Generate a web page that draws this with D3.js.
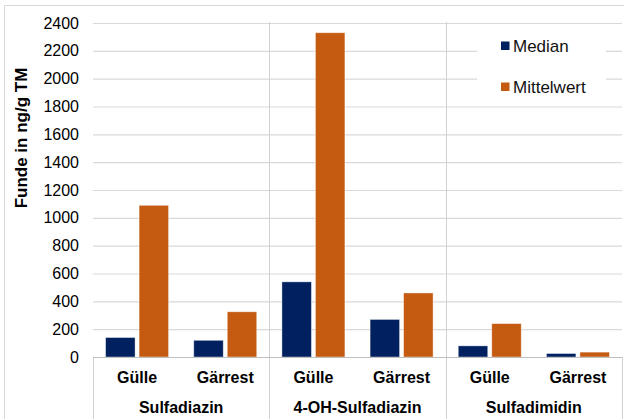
<!DOCTYPE html>
<html>
<head>
<meta charset="utf-8">
<script src="https://cdn.jsdelivr.net/npm/d3@7/dist/d3.min.js"></script>
<style>
  html, body { margin: 0; padding: 0; background: #fff; }
  svg { display: block; font-family: Arial, "Liberation Sans", sans-serif; }
</style>
</head>
<body>
<svg id="chart" width="624" height="419"></svg>
<script>
// Substances (outer categories) and sample types (inner categories)
const substances = ["Sulfadiazin", "4-OH-Sulfadiazin", "Sulfadimidin"];
const matrices = ["Gülle", "Gärrest"];
const seriesNames = ["Median", "Mittelwert"];
const seriesColors = ["#002060", "#C55A11"];

// Values in ng/g TM, ordered substance by substance, Gülle then Gärrest
const medianValues = [140, 120, 540, 270, 80, 25];
const meanValues = [1090, 325, 2330, 460, 240, 35];

const yTicks = [0, 200, 400, 600, 800, 1000, 1200, 1400, 1600, 1800, 2000, 2200, 2400];
const yTitle = "Funde in ng/g TM";

const rows = [];
substances.forEach((s, i) => {
  matrices.forEach((m, j) => {
    const k = i * matrices.length + j;
    rows.push({ substance: s, matrix: m, values: [medianValues[k], meanValues[k]] });
  });
});

const svg = d3.select("#chart");
const plotLeft = 93, plotRight = 622, plotTop = 23, base = 357, plotBottom = 419;

// Outer frame (top and left edges visible)
svg.append("path")
  .attr("d", `M4.5,419 V5.5 H624`)
  .attr("fill", "none").attr("stroke", "#d9d9d9").attr("stroke-width", 1);

const x0 = d3.scaleBand().domain(substances).range([plotLeft, plotRight]);
const x1 = d3.scaleBand().domain(matrices).range([0, x0.bandwidth()]);
const x2 = d3.scaleBand().domain(seriesNames).range([0, x1.bandwidth()])
  .paddingInner(0.12).paddingOuter(0.376);
const y = d3.scaleLinear().domain([0, 2400]).range([base, plotTop]);

// Horizontal gridlines
svg.append("g")
  .attr("transform", `translate(${plotLeft},0)`)
  .call(d3.axisLeft(y).tickValues(yTicks.slice(1)).tickSize(-(plotRight - plotLeft)).tickFormat(""))
  .call(g => g.select(".domain").remove())
  .call(g => g.selectAll("line").attr("stroke", "#d9d9d9").attr("stroke-width", 1.2));

// Separators between substances, spanning plot and category area
substances.slice(1).forEach(s => {
  const xs = Math.round(x0(s)) + 0.5;
  svg.append("line").attr("x1", xs).attr("x2", xs).attr("y1", plotTop - 1).attr("y2", plotBottom)
    .attr("stroke", "#d0d0d0").attr("stroke-width", 1);
});
// Outer edges of the category area
[plotLeft, plotRight].forEach(xe => {
  svg.append("line").attr("x1", xe + 0.5).attr("x2", xe + 0.5).attr("y1", base).attr("y2", plotBottom)
    .attr("stroke", "#d0d0d0").attr("stroke-width", 1);
});

// Y tick labels
svg.append("g")
  .attr("transform", `translate(${plotLeft},0)`)
  .call(d3.axisLeft(y).tickValues(yTicks).tickSize(0).tickPadding(14).tickFormat(d3.format("d")))
  .call(g => g.select(".domain").remove())
  .call(g => g.selectAll("text")
    .attr("font-size", "16px").attr("fill", "#000")
    .attr("font-family", "Arial, 'Liberation Sans', sans-serif"));

// Bars
const groups = svg.append("g").selectAll("g").data(rows).join("g")
  .attr("transform", d => `translate(${x0(d.substance) + x1(d.matrix)},0)`);
groups.selectAll("rect")
  .data(d => d.values.map((v, i) => ({ v, i })))
  .join("rect")
  .attr("x", d => x2(seriesNames[d.i]))
  .attr("width", x2.bandwidth())
  .attr("y", d => y(d.v))
  .attr("height", d => base - y(d.v))
  .attr("fill", d => seriesColors[d.i])
  .attr("stroke", "rgba(255,255,255,0.5)")
  .attr("stroke-width", 0.8);

// Baseline
svg.append("line").attr("x1", plotLeft).attr("x2", plotRight).attr("y1", base + 0.5).attr("y2", base + 0.5)
  .attr("stroke", "#bfbfbf").attr("stroke-width", 1);

// Category labels: sample type, then substance
svg.append("g").selectAll("text").data(rows).join("text")
  .attr("x", d => x0(d.substance) + x1(d.matrix) + x1.bandwidth() / 2)
  .attr("y", 377)
  .attr("dy", "0.35em")
  .attr("text-anchor", "middle")
  .attr("font-size", "16px").attr("font-weight", "bold").attr("fill", "#000")
  .text(d => d.matrix);

svg.append("g").selectAll("text").data(substances).join("text")
  .attr("x", d => x0(d) + x0.bandwidth() / 2)
  .attr("y", 407)
  .attr("dy", "0.35em")
  .attr("text-anchor", "middle")
  .attr("font-size", "16px").attr("font-weight", "bold").attr("fill", "#000")
  .text(d => d);

// Y axis title
svg.append("text")
  .attr("transform", `translate(21,138) rotate(-90)`)
  .attr("text-anchor", "middle")
  .attr("dy", "0.35em")
  .attr("font-size", "17px").attr("font-weight", "bold").attr("fill", "#000")
  .text(yTitle);

// Legend
const legend = svg.append("g");
legend.append("rect").attr("x", 477).attr("y", 28).attr("width", 129).attr("height", 70).attr("fill", "#fff");
seriesNames.forEach((name, i) => {
  const cy = 46 + i * 41;
  legend.append("rect").attr("x", 501).attr("y", cy - 4.5).attr("width", 8.5).attr("height", 8.5)
    .attr("fill", seriesColors[i]);
  legend.append("text").attr("x", 513).attr("y", cy).attr("dy", "0.35em")
    .attr("font-size", "17px").attr("fill", "#111").text(name);
});
</script>
</body>
</html>
